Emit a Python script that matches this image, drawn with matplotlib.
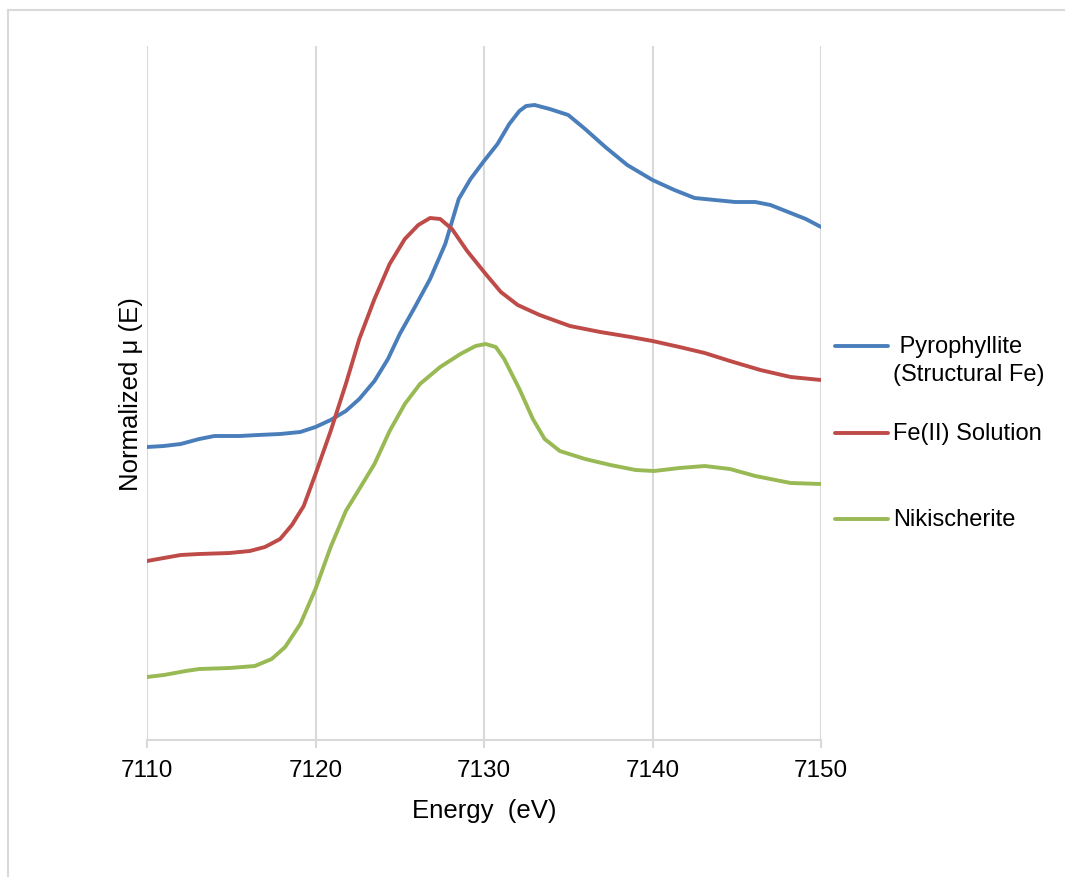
import matplotlib
matplotlib.use("Agg")
import matplotlib.pyplot as plt
from matplotlib.lines import Line2D

plt.rcParams['font.family'] = ['Liberation Sans', 'DejaVu Sans']

# energies (eV) and normalized absorption
pyro_e = [7110, 7111, 7112, 7113.1, 7114, 7115.5, 7116.6, 7117.9, 7119.1, 7120,
          7120.9, 7121.8, 7122.6, 7123.5, 7124.3, 7125, 7125.9, 7126.8, 7127.7,
          7128.5, 7129.2, 7130, 7130.8, 7131.5, 7132.1, 7132.5, 7133, 7133.9,
          7135, 7136, 7137.2, 7138.5, 7140, 7141.3, 7142.5, 7143.7, 7144.9,
          7146.1, 7147, 7147.9, 7149.1, 7150]
pyro_mu = [2.93, 2.94, 2.96, 3.01, 3.04, 3.04, 3.05, 3.06, 3.08, 3.13,
           3.20, 3.29, 3.41, 3.59, 3.81, 4.06, 4.33, 4.61, 4.96,
           5.41, 5.61, 5.79, 5.96, 6.16, 6.29, 6.34, 6.35, 6.31,
           6.25, 6.11, 5.93, 5.75, 5.60, 5.50, 5.42, 5.40, 5.38,
           5.38, 5.35, 5.29, 5.21, 5.13]

fe2_e = [7110, 7111, 7112, 7113.1, 7114.9, 7116.1, 7117, 7117.9, 7118.6, 7119.3,
         7120, 7120.9, 7121.8, 7122.6, 7123.5, 7124.4, 7125.3, 7126.1, 7126.8,
         7127.4, 7128.1, 7129, 7130.1, 7131, 7132, 7133.3, 7135.1, 7136.9,
         7138.7, 7140, 7141.6, 7143.1, 7144.6, 7146.4, 7148.2, 7150]
fe2_mu = [1.79, 1.82, 1.85, 1.86, 1.87, 1.89, 1.93, 2.01, 2.15, 2.34,
          2.66, 3.09, 3.56, 4.01, 4.41, 4.76, 5.01, 5.15, 5.22,
          5.21, 5.11, 4.89, 4.66, 4.48, 4.35, 4.25, 4.14, 4.08,
          4.03, 3.99, 3.93, 3.87, 3.79, 3.70, 3.63, 3.60]

niki_e = [7110, 7111, 7112.3, 7113.1, 7114.9, 7116.4, 7117.4, 7118.2, 7119.1, 7120,
          7120.9, 7121.8, 7122.6, 7123.5, 7124.4, 7125.3, 7126.2, 7127.4, 7128.6,
          7129.5, 7130.1, 7130.7, 7131.2, 7132.1, 7132.9, 7133.6, 7134.5, 7136,
          7137.5, 7139, 7140.1, 7141.6, 7143.1, 7144.6, 7146.1, 7148.2, 7150]
niki_mu = [0.63, 0.65, 0.69, 0.71, 0.72, 0.74, 0.81, 0.93, 1.16, 1.51,
           1.93, 2.29, 2.51, 2.76, 3.09, 3.36, 3.56, 3.73, 3.86,
           3.94, 3.96, 3.93, 3.81, 3.51, 3.21, 3.01, 2.89, 2.81,
           2.75, 2.70, 2.69, 2.72, 2.74, 2.71, 2.64, 2.57, 2.56]

labels = [" Pyrophyllite\n(Structural Fe)", "Fe(II) Solution", "Nikischerite"]
colors = ["#4A7EBB", "#BE4B48", "#98B954"]
xticks = [7110, 7120, 7130, 7140, 7150]

W, H = 1065, 878
fig = plt.figure(figsize=(W / 100, H / 100), dpi=100)
ax = fig.add_axes([147 / W, (H - 741) / H, (821 - 147) / W, (741 - 47) / H])

series = [(pyro_e, pyro_mu), (fe2_e, fe2_mu), (niki_e, niki_mu)]
for (e, mu), c in zip(series, colors):
    ax.plot(e, mu, color=c, lw=2.8, solid_joinstyle='round', solid_capstyle='round')

ax.set_xlim(7110, 7150)
ax.set_ylim(0, 6.94)
ax.set_xticks(xticks)
ax.set_yticks([])
ax.grid(axis='x', color='#D9D9D9', lw=1.5)
ax.set_axisbelow(True)
for s in ['top', 'right', 'left']:
    ax.spines[s].set_visible(False)
ax.spines['bottom'].set_color('#D9D9D9')
ax.spines['bottom'].set_linewidth(1.5)
ax.tick_params(axis='x', length=6, width=1.5, color='#D9D9D9', labelsize=17.5, pad=8)
ax.set_xlabel("Energy  (eV)", fontsize=18.5, labelpad=12)
ax.set_ylabel("Normalized \u03bc (E)", fontsize=18.5, labelpad=3)

# legend drawn by hand to match the placement in the reference
leg_y = [347, 434, 520]
for lab, c, y in zip(labels, colors, leg_y):
    fig.add_artist(Line2D([835 / W, 888 / W], [1 - y / H, 1 - y / H], color=c, lw=2.8,
                          solid_capstyle='round'))
    if "\n" in lab:
        fig.text(893 / W, 1 - (y + 14) / H, lab, fontsize=17, va='center', ha='left',
                 linespacing=1.35)
    else:
        fig.text(893 / W, 1 - y / H, lab, fontsize=17, va='center', ha='left')

# light chart-area frame
fig.add_artist(Line2D([8 / W, 8 / W], [0, 1 - 11 / H], color='#D9D9D9', lw=1.5))
fig.add_artist(Line2D([8 / W, 1], [1 - 11 / H, 1 - 11 / H], color='#D9D9D9', lw=1.5))

fig.savefig("out.png", dpi=100)
